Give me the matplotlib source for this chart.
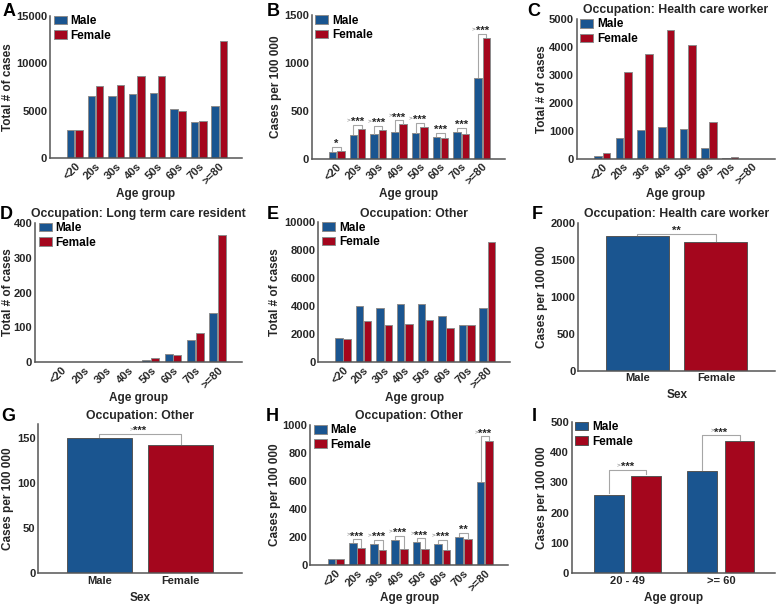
import matplotlib
matplotlib.use('Agg')
import matplotlib.pyplot as plt
import matplotlib.transforms as mtransforms
import numpy as np

plt.rcParams['font.family'] = ['Liberation Sans', 'DejaVu Sans']
plt.rcParams['font.weight'] = 'bold'
plt.rcParams['axes.titleweight'] = 'bold'
plt.rcParams['axes.labelweight'] = 'bold'

BLUE = '#1a5590'
RED = '#a4061d'
EDGE = '#8c8c8c'
TXT = '#262626'

ages = ['<20', '20s', '30s', '40s', '50s', '60s', '70s', '>=80']
sexes = ['Male', 'Female']
age2 = ['20 - 49', '>= 60']

# A: total cases
a_male = [2950, 6520, 6520, 6730, 6900, 5150, 3790, 5500]
a_female = [3000, 7600, 7710, 8690, 8620, 4980, 3890, 12300]
# B: cases per 100 000
b_male = [70, 247, 254, 282, 265, 226, 279, 843]
b_female = [77, 310, 300, 359, 328, 213, 258, 1261]
b_sig = ['*', '>***', '>***', '>***', '>***', '***', '***', '>***']
# C: health care workers
c_male = [83, 750, 1012, 1119, 1060, 369, 36, 4]
c_female = [202, 3095, 3738, 4619, 4060, 1298, 60, 6]
# D: long term care residents
d_male = [0, 0, 0, 0, 6, 24, 64, 140]
d_female = [0, 0, 0, 0, 12, 21, 83, 366]
# E: other occupation
e_male = [1714, 4024, 3881, 4190, 4190, 3286, 2643, 3857]
e_female = [1643, 2976, 2643, 2762, 3024, 2476, 2690, 8571]
# F: health care worker rate by sex
f_vals = [1824, 1743]
f_sig = '**'
# G: other occupation rate by sex
g_vals = [149.6, 142.2]
g_sig = '>***'
# H: other occupation rate by age
h_male = [43, 155, 150, 179, 162, 150, 198, 595]
h_female = [43, 121, 105, 117, 117, 107, 183, 888]
h_sig = ['', '>***', '>***', '>***', '>***', '>***', '**', '>***']
# I: rate by broad age group
i_male = [260, 338]
i_female = [323, 437]
i_sig = ['>***', '>***']

FS_TICK = 8
FS_LAB = 8.5
FS_TITLE = 8.8


def style(ax, ymax, ystep):
    for s in ['top', 'right']:
        ax.spines[s].set_visible(False)
    for s in ['left', 'bottom']:
        ax.spines[s].set_color('#555555')
        ax.spines[s].set_linewidth(1.1)
    ax.set_ylim(0, ymax)
    ax.set_yticks(np.arange(0, ymax + 1, ystep))
    ax.tick_params(length=0, labelsize=FS_TICK, labelcolor=TXT, pad=2)


def ylab(ax, text, px):
    # px: right edge of the rotated label, in figure pixels
    ax.set_ylabel(text, fontsize=FS_LAB, color=TXT)
    tr = mtransforms.blended_transform_factory(fig.transFigure, ax.transAxes)
    ax.yaxis.set_label_coords(px / 778, 0.5, transform=tr)


def xlab(ax, text, py):
    # py: top of the label, in figure pixels
    ax.set_xlabel(text, fontsize=FS_LAB, color=TXT)
    tr = mtransforms.blended_transform_factory(ax.transAxes, fig.transFigure)
    ax.xaxis.set_label_coords(0.5, 1 - py / 606, transform=tr)


def bracket(ax, x1, x2, y1, y2, h, label):
    top = max(y1, y2) + h
    gap = h * 0.2
    ax.plot([x1, x1, x2, x2], [y1 + gap, top, top, y2 + gap], color='#a6a6a6', lw=0.8)
    star = label.lstrip('>')
    ax.annotate(star, ((x1 + x2) / 2, top), xytext=(0, -0.2), textcoords='offset points',
                ha='center', va='baseline', fontsize=8, color=TXT)
    if label.startswith('>'):
        w = 0.389 * 8 * len(star) / 2 + 0.4
        ax.annotate('>', ((x1 + x2) / 2, top), xytext=(-w, 2.5), textcoords='offset points',
                    ha='right', va='baseline', fontsize=4.5, color='#6f6f6f', weight='normal')


def legend(ax):
    ax.legend(loc='upper left', bbox_to_anchor=(0.0, 1.03), frameon=False, fontsize=8.5,
              handlelength=1.1, handleheight=0.75, labelspacing=0.22, handletextpad=0.35,
              borderaxespad=0.1, borderpad=0.2)


def grouped(ax, male, female, ymax, ystep, ylabel, lpx, lpy, title=None, sig=None):
    x = np.arange(len(ages))
    ax.bar(x - 0.2, male, 0.36, color=BLUE, edgecolor=EDGE, lw=0.7, label='Male')
    ax.bar(x + 0.2, female, 0.36, color=RED, edgecolor=EDGE, lw=0.7, label='Female')
    style(ax, ymax, ystep)
    ax.set_xlim(-1.2, 8.1)
    ax.set_xticks(x)
    ax.set_xticklabels(ages, rotation=45, ha='right', va='top', rotation_mode='anchor')
    xlab(ax, 'Age group', lpy)
    ylab(ax, ylabel, lpx)
    if title:
        ax.set_title(title, fontsize=FS_TITLE, color=TXT, pad=4)
    if sig:
        for i, s in enumerate(sig):
            if s:
                bracket(ax, i - 0.2, i + 0.2, male[i], female[i], 0.03 * ymax, s)
    legend(ax)


def two_bars(ax, vals, ymax, ystep, title, sig, h, lpx, lpy):
    x = np.array([1, 2])
    ax.bar(x, vals, 0.8, color=[BLUE, RED], edgecolor='#555555', lw=0.7)
    style(ax, ymax, ystep)
    ax.set_xlim(0.25, 2.75)
    ax.set_xticks(x)
    ax.set_xticklabels(sexes)
    xlab(ax, 'Sex', lpy)
    ylab(ax, 'Cases per 100 000', lpx)
    ax.set_title(title, fontsize=FS_TITLE, color=TXT, pad=4)
    bracket(ax, 1, 2, vals[0], vals[1], h, sig)


fig = plt.figure(figsize=(7.78, 6.06), dpi=100)

axA = fig.add_axes([0.0643, 0.7388, 0.2468, 0.2353])
axB = fig.add_axes([0.4006, 0.7381, 0.2485, 0.2366])
axC = fig.add_axes([0.7413, 0.7381, 0.2549, 0.2305])
axD = fig.add_axes([0.0450, 0.4021, 0.2661, 0.2304])
axE = fig.add_axes([0.4091, 0.4021, 0.2464, 0.2310])
axF = fig.add_axes([0.7433, 0.3883, 0.2528, 0.2442])
axG = fig.add_axes([0.0492, 0.0540, 0.2614, 0.2459])
axH = fig.add_axes([0.3985, 0.0677, 0.2549, 0.2310])
axI = fig.add_axes([0.7348, 0.0540, 0.2613, 0.2497])

grouped(axA, a_male, a_female, 15000, 5000, 'Total # of cases', 14, 188)
grouped(axB, b_male, b_female, 1500, 500, 'Cases per 100 000', 282, 188, sig=b_sig)
grouped(axC, c_male, c_female, 5000, 1000, 'Total # of cases', 548, 188,
        title='Occupation: Health care worker')
grouped(axD, d_male, d_female, 400, 100, 'Total # of cases', 14, 392,
        title='Occupation: Long term care resident')
grouped(axE, e_male, e_female, 10000, 2000, 'Total # of cases', 281, 392,
        title='Occupation: Other')
two_bars(axF, f_vals, 2000, 500, 'Occupation: Health care worker', f_sig, 27, 548, 389)
two_bars(axG, g_vals, 165, 50, 'Occupation: Other', g_sig, 4.8, 14, 592)
axG.set_yticks([0, 50, 100, 150])
grouped(axH, h_male, h_female, 1000, 200, 'Cases per 100 000', 281, 592,
        title='Occupation: Other', sig=h_sig)

# I: broad age groups
xi = np.array([1, 2])
axI.bar(xi - 0.2, i_male, 0.32, color=BLUE, edgecolor='#555555', lw=0.7, label='Male')
axI.bar(xi + 0.2, i_female, 0.32, color=RED, edgecolor='#555555', lw=0.7, label='Female')
style(axI, 500, 100)
axI.set_xlim(0.4, 2.58)
axI.set_xticks(xi)
axI.set_xticklabels(age2)
xlab(axI, 'Age group', 592)
ylab(axI, 'Cases per 100 000', 548)
for i in range(2):
    bracket(axI, xi[i] - 0.2, xi[i] + 0.2, i_male[i], i_female[i], 19, i_sig[i])
legend(axI)

letters = [('A', 0.003, 0.995), ('B', 0.343, 0.995), ('C', 0.678, 0.995),
           ('D', 0.000, 0.660), ('E', 0.343, 0.660), ('F', 0.684, 0.660),
           ('G', 0.002, 0.327), ('H', 0.342, 0.327), ('I', 0.684, 0.327)]
for s, x, y in letters:
    fig.text(x, y, s, fontsize=13, weight='bold', va='top', ha='left', color='black')

fig.savefig('out.png', dpi=100)
